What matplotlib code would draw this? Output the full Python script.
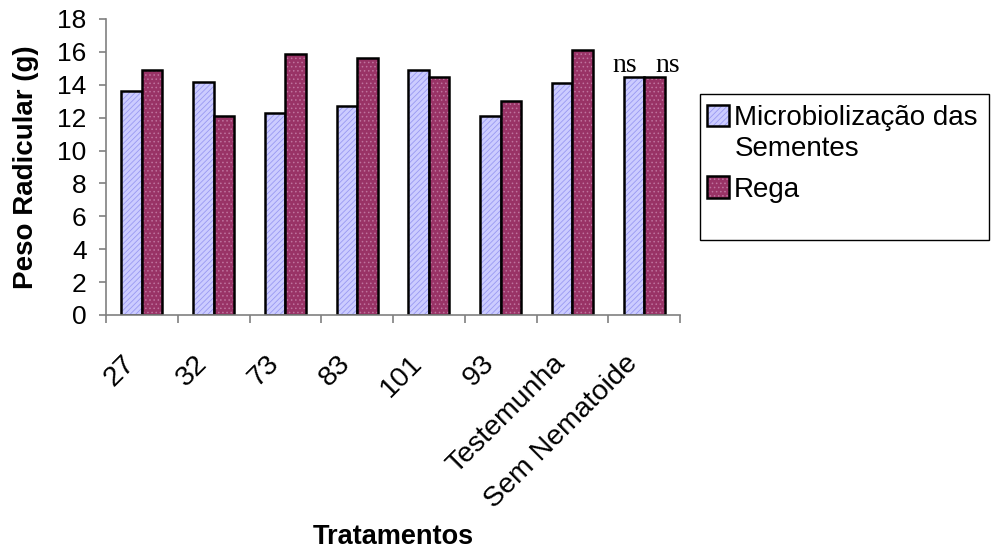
import matplotlib
matplotlib.use('Agg')
import matplotlib.pyplot as plt
from matplotlib.patches import Rectangle
import numpy as np

plt.rcParams['font.family'] = ['Liberation Sans', 'DejaVu Sans']
plt.rcParams['hatch.linewidth'] = 0.6

tratamentos = ['27', '32', '73', '83', '101', '93', 'Testemunha', 'Sem Nematoide']
microbiolizacao = [13.6, 14.15, 12.27, 12.68, 14.9, 12.13, 14.1, 14.5]
rega = [14.9, 12.1, 15.87, 15.65, 14.5, 13.0, 16.1, 14.5]
serie_nomes = ['Microbiolização das', 'Rega']
serie_nome_cont = 'Sementes'
anotacoes = {7: 'ns'}

fig = plt.figure(figsize=(9.92, 5.5), dpi=100)
ax = fig.add_axes([106/992, 1-315/550, 574/992, 296/550])

x = np.arange(len(tratamentos))
w = 0.286
b1 = ax.bar(x - w/2, microbiolizacao, w, color='#ccccff', edgecolor='black',
            linewidth=1.8, hatch='//////', label=serie_nomes[0])
b2 = ax.bar(x + w/2, rega, w, color='#993366', edgecolor='black',
            linewidth=1.8, hatch='....', label=serie_nomes[1])
# lighter hatch lines than the black edges
for p in b1:
    p._hatch_color = (0.6, 0.6, 0.95, 1)
for p in b2:
    p._hatch_color = (0.75, 0.45, 0.62, 1)

for i, txt in anotacoes.items():
    ax.text(x[i] - 0.265, microbiolizacao[i] + 0.25, txt, ha='center', va='baseline',
            family='Liberation Serif', fontsize=20)
    ax.text(x[i] + 0.335, rega[i] + 0.25, txt, ha='center', va='baseline',
            family='Liberation Serif', fontsize=20)

ax.set_xlim(-0.5, len(tratamentos) - 0.5)
ax.set_ylim(0, 18)
ax.set_yticks(range(0, 19, 2))
ax.tick_params(axis='y', labelsize=19, length=5, color='#808080', width=1.2, pad=9)
ax.set_xticks(np.arange(len(tratamentos) + 1) - 0.5)
ax.set_xticklabels([])
# labels sit a little left of the category centre, like in excel
ax.set_xticks(x - 0.15, minor=True)
ax.set_xticklabels(tratamentos, minor=True, rotation=45, ha='right', va='center',
                   rotation_mode='anchor', fontsize=20.5)
ax.tick_params(axis='x', which='major', length=6, color='#808080', width=1.2)
ax.tick_params(axis='x', which='minor', length=0, pad=32)

for s in ['top', 'right']:
    ax.spines[s].set_visible(False)
for s in ['left', 'bottom']:
    ax.spines[s].set_color('#808080')
    ax.spines[s].set_linewidth(1.2)

fig.text(26/992, 1-167/550, 'Peso Radicular (g)', ha='center', va='center',
         rotation=90, fontsize=20, fontweight='bold')
fig.text(393/992, 1-537/550, 'Tratamentos', ha='center', va='center',
         fontsize=19.5, fontweight='bold')

# legend frame drawn separately to get the tall box
fig.patches.append(Rectangle((700/992, 1-240/550), 289/992, 146/550,
                             transform=fig.transFigure, fill=False,
                             edgecolor='black', linewidth=1.0))
leg = fig.legend(handles=[b1, b2], loc='upper left',
                 bbox_to_anchor=(707/992, 1-105/550),
                 fontsize=20, frameon=False,
                 handlelength=0.8, handleheight=0.8,
                 handletextpad=0.18, borderaxespad=0, borderpad=0,
                 labelspacing=1.62)
fig.text(735/992, 1-156/550, serie_nome_cont, ha='left', va='baseline', fontsize=20)

fig.savefig('out.png', dpi=100)
